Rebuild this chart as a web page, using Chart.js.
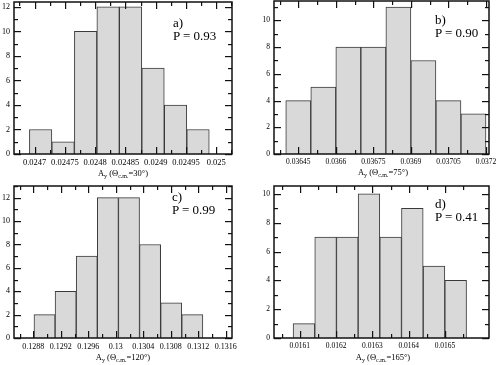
<!DOCTYPE html>
<html>
<head>
<meta charset="utf-8">
<script src="https://cdn.jsdelivr.net/npm/chart.js@4"></script>
<style>
  body { margin: 0; background: #fff; }
  #fig { position: relative; width: 498px; height: 365px; overflow: hidden;
         font-family: "Liberation Serif", "DejaVu Serif", serif; color: #000; }
  #fig canvas { position: absolute; }
  .xt { position: absolute; font-size: 8.5px; white-space: nowrap; transform: translate(-50%, -50%); }
  .xt sub { font-size: 6px; vertical-align: -2px; }
  .note { position: absolute; font-size: 13px; line-height: 13px; white-space: nowrap; }
</style>
</head>
<body>
<div id="fig">
  <canvas id="cA" width="249" height="182" style="left:0;top:0"></canvas>
  <canvas id="cB" width="249" height="182" style="left:249px;top:0"></canvas>
  <canvas id="cC" width="249" height="183" style="left:0;top:182px"></canvas>
  <canvas id="cD" width="249" height="183" style="left:249px;top:182px"></canvas>

  <div class="xt" style="left:123px;top:173px">A<sub>y</sub> (Θ<sub>c.m.</sub>=30°)</div>
  <div class="xt" style="left:383px;top:172px">A<sub>y</sub> (Θ<sub>c.m.</sub>=75°)</div>
  <div class="xt" style="left:123px;top:357px">A<sub>y</sub> (Θ<sub>c.m.</sub>=120°)</div>
  <div class="xt" style="left:383px;top:357px">A<sub>y</sub> (Θ<sub>c.m.</sub>=165°)</div>

  <div class="note" style="left:173px;top:16px">a)<br>P = 0.93</div>
  <div class="note" style="left:435px;top:13px">b)<br>P = 0.90</div>
  <div class="note" style="left:172px;top:190px">c)<br>P = 0.99</div>
  <div class="note" style="left:435px;top:197px">d)<br>P = 0.41</div>
</div>

<script>
// bin centres and counts
const binsA = [0.0247100, 0.0247471, 0.0247843, 0.0248214, 0.0248585, 0.0248956, 0.0249328, 0.0249699];
const countsA = [2, 1, 10, 12, 12, 7, 4, 2];
const xTicksA = [0.0247, 0.02475, 0.0248, 0.02485, 0.0249, 0.02495, 0.025];
const yTicksA = [0, 2, 4, 6, 8, 10, 12];

const binsB = [0.03645, 0.03655, 0.03665, 0.03675, 0.03685, 0.03695, 0.03705, 0.03715];
const countsB = [4, 5, 8, 8, 11, 7, 4, 3];
const xTicksB = [0.03645, 0.0366, 0.03675, 0.0369, 0.03705, 0.0372];
const yTicksB = [0, 2, 4, 6, 8, 10];

const binsC = [0.128964, 0.129271, 0.129578, 0.129885, 0.130192, 0.130499, 0.130806, 0.131113];
const countsC = [2, 4, 7, 12, 12, 8, 3, 2];
const xTicksC = [0.1288, 0.1292, 0.1296, 0.13, 0.1304, 0.1308, 0.1312, 0.1316];
const yTicksC = [0, 2, 4, 6, 8, 10, 12];

const binsD = [0.0161114, 0.0161711, 0.0162308, 0.0162905, 0.0163502, 0.0164099, 0.0164696, 0.0165293];
const countsD = [1, 7, 7, 10, 7, 9, 5, 4];
const xTicksD = [0.0161, 0.0162, 0.0163, 0.0164, 0.0165];
const yTicksD = [0, 2, 4, 6, 8, 10];

const FONT = '"Liberation Serif", "DejaVu Serif", serif';

// minor ticks sit halfway between the majors
function minorsOf(values, min, max) {
  const step = values[1] - values[0];
  const out = [];
  for (let v = values[0] - step / 2; v <= max; v += step) {
    if (v >= min) out.push(v);
  }
  return out;
}

// xmgrace style box with inward ticks on all four sides
const frameTicks = {
  id: "frameTicks",
  afterDraw(chart) {
    const ctx = chart.ctx;
    const a = chart.chartArea;
    const xs = chart.scales.x, ys = chart.scales.y;
    const xMajor = xs.ticks.map(t => t.value);
    const yMajor = ys.ticks.map(t => t.value);
    ctx.save();
    ctx.fillStyle = "#111";
    const vert = (list, len) => list.forEach(v => {
      const p = Math.round(xs.getPixelForValue(v));
      ctx.fillRect(p, a.bottom - len, 1.2, len);
      ctx.fillRect(p, a.top, 1.2, len);
    });
    const horiz = (list, len) => list.forEach(v => {
      const p = Math.round(ys.getPixelForValue(v));
      ctx.fillRect(a.left, p, len, 1.2);
      ctx.fillRect(a.right - len, p, len, 1.2);
    });
    vert(xMajor, 7);
    vert(minorsOf(xMajor, xs.min, xs.max), 4);
    horiz(yMajor, 7);
    horiz(minorsOf(yMajor, ys.min, ys.max), 4);
    ctx.strokeStyle = "#111";
    ctx.lineWidth = 1.5;
    ctx.strokeRect(a.left, a.top, a.right - a.left, a.bottom - a.top);
    ctx.restore();
  }
};

function histogram(id, cfg) {
  const canvas = document.getElementById(id);
  const W = canvas.width, H = canvas.height;
  new Chart(canvas, {
    type: "bar",
    data: {
      datasets: [{
        data: cfg.bins.map((b, i) => ({ x: b, y: cfg.counts[i] })),
        backgroundColor: "#d9d9d9",
        borderColor: "#3a3a3a",
        borderWidth: 1,
        barPercentage: 1,
        categoryPercentage: 1
      }]
    },
    options: {
      responsive: false,
      animation: false,
      devicePixelRatio: 1,
      layout: { padding: { left: 0, top: cfg.area.top, right: W - cfg.area.right, bottom: 0 } },
      plugins: { legend: { display: false }, tooltip: { enabled: false } },
      scales: {
        x: {
          type: "linear",
          offset: false,
          min: cfg.xMin,
          max: cfg.xMax,
          grid: { display: false, drawTicks: false },
          border: { display: false },
          ticks: {
            autoSkip: false, maxRotation: 0, padding: 4, color: "#000",
            font: { family: FONT, size: cfg.xFont },
            callback: v => String(v)
          },
          afterBuildTicks: s => { s.ticks = cfg.xTicks.map(v => ({ value: v })); },
          afterFit: s => { s.height = H - cfg.area.bottom; s.paddingLeft = 0; s.paddingRight = 0; }
        },
        y: {
          min: 0,
          max: cfg.yMax,
          grid: { display: false, drawTicks: false },
          border: { display: false },
          ticks: {
            padding: 4, color: "#000",
            font: { family: FONT, size: cfg.yFont },
            callback: v => String(v)
          },
          afterBuildTicks: s => { s.ticks = cfg.yTicks.map(v => ({ value: v })); },
          afterFit: s => { s.width = cfg.area.left; s.paddingTop = 0; s.paddingBottom = 0; }
        }
      }
    },
    plugins: [frameTicks]
  });
}

histogram("cA", {
  bins: binsA, counts: countsA, xTicks: xTicksA, yTicks: yTicksA,
  xMin: 0.024666, xMax: 0.025026, yMax: 12.4,
  area: { left: 14, right: 232, top: 2, bottom: 154 }, xFont: 8.5, yFont: 8
});
histogram("cB", {
  bins: binsB, counts: countsB, xTicks: xTicksB, yTicks: yTicksB,
  xMin: 0.036353, xMax: 0.037212, yMax: 11.45,
  area: { left: 25, right: 240, top: 1, bottom: 154 }, xFont: 7.5, yFont: 7.5
});
histogram("cC", {
  bins: binsC, counts: countsC, xTicks: xTicksC, yTicks: yTicksC,
  xMin: 0.12852, xMax: 0.13169, yMax: 13,
  area: { left: 14, right: 232, top: 4, bottom: 156 }, xFont: 8, yFont: 8
});
histogram("cD", {
  bins: binsD, counts: countsD, xTicks: xTicksD, yTicks: yTicksD,
  xMin: 0.016029, xMax: 0.016621, yMax: 10.55,
  area: { left: 25, right: 240, top: 4, bottom: 156 }, xFont: 7.5, yFont: 7.5
});
</script>
</body>
</html>
